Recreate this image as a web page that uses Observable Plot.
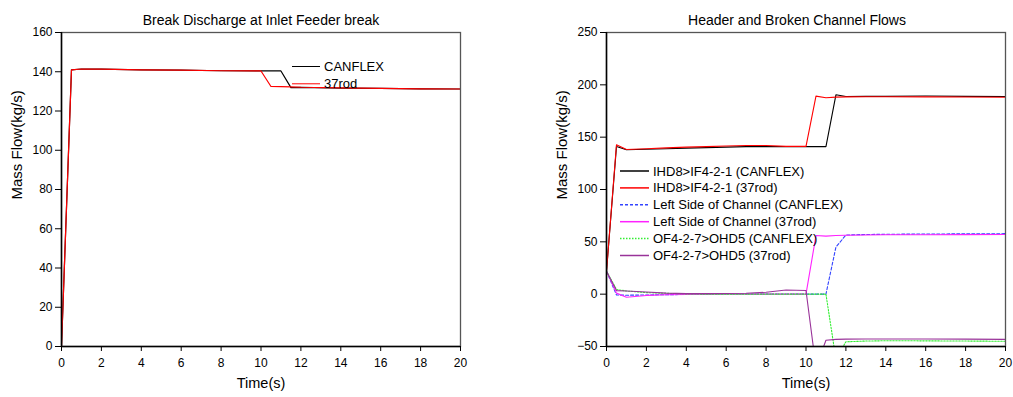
<!DOCTYPE html>
<html>
<head>
<meta charset="utf-8">
<script src="https://cdn.jsdelivr.net/npm/d3@7"></script>
<script src="https://cdn.jsdelivr.net/npm/@observablehq/plot@0.6"></script>
<style>
  html, body { margin: 0; padding: 0; background: #fff; }
  #wrap { display: flex; width: 1013px; height: 397px; }
  svg { overflow: visible; }
</style>
</head>
<body>
<div id="wrap"></div>
<script>
// ---------- Left chart data ----------
const leftTitle = "Break Discharge at Inlet Feeder break";
const timeLeft = [0, 0.5, 1, 2, 4, 6, 8, 10, 10.5, 11, 11.5, 12, 14, 16, 18, 20];
const canflexLeft = [0, 141, 141.4, 141.3, 141, 140.8, 140.5, 140.4, 140.4, 140.4, 131.9, 132, 131.7, 131.5, 131.3, 131.2];
const rod37Left   = [0, 141, 141.4, 141.3, 141, 140.8, 140.5, 140.4, 132.5, 132.4, 132.3, 132.1, 131.8, 131.5, 131.3, 131.2];
const leftSeries = ["CANFLEX", "37rod"];
const leftColors = ["#000000", "#ff0000"];
const leftYTicks = [0, 20, 40, 60, 80, 100, 120, 140, 160];

// ---------- Right chart data ----------
const rightTitle = "Header and Broken Channel Flows";
const timeRight = [0, 0.5, 1, 2, 3, 4, 5, 6, 7, 8, 9, 10, 10.5, 11, 11.5, 12, 13, 14, 16, 18, 20];
const ihdCanflex   = [22, 141, 138, 138.5, 139, 139.5, 140, 140.5, 141, 141, 141, 141, 141, 141, 190.5, 188.8, 189, 189, 189.3, 189, 188.8];
const ihd37rod     = [22, 142.8, 138.2, 139, 139.8, 140.5, 141, 141.5, 142, 142, 141.2, 141.2, 189.2, 187.7, 188.3, 188.5, 188.6, 188.6, 188.5, 188.4, 188.2];
const leftCanflex  = [22, -0.8, -1, -0.8, -0.5, -0.3, 0, 0, 0, 0, 0, 0, 0, 0, 45, 56.5, 57, 57.2, 57.5, 57.6, 57.8];
const left37rod    = [22, 1, -3, -1.2, -0.6, -0.3, 0, 0, 0, 0, 0, 0, 56, 55.5, 56, 56.3, 56.5, 56.7, 56.8, 56.9, 57];
const ofCanflex    = [22, 4.5, 3, 1.5, 0.8, 0.3, 0, 0, 0, 0, 0, 0, 0, 0, -62, -45.5, -44.8, -44.5, -44.6, -44.8, -45];
const of37rod      = [22, 3.4, 3, 2, 1, 0.5, 0.5, 0.6, 0.9, 1.8, 4, 3.5, -70, -44, -43.2, -43, -42.9, -42.8, -42.9, -43, -43.2];
const rightSeries = [
  "IHD8>IF4-2-1 (CANFLEX)",
  "IHD8>IF4-2-1 (37rod)",
  "Left Side of Channel (CANFLEX)",
  "Left Side of Channel (37rod)",
  "OF4-2-7>OHD5 (CANFLEX)",
  "OF4-2-7>OHD5 (37rod)"
];
const rightColors = ["#000000", "#ff0000", "#3344ff", "#ff22ff", "#33ee33", "#993399"];
const rightDash = [null, null, "3,2", null, "1.5,1.5", null];
const rightYTicks = [-50, 0, 50, 100, 150, 200, 250];
const xTicks = [0, 2, 4, 6, 8, 10, 12, 14, 16, 18, 20];
const xLabel = "Time(s)";
const yLabel = "Mass Flow(kg/s)";

function toRows(time, values, series) {
  return time.map((t, i) => ({ t, v: values[i], s: series }));
}

const leftData = [
  toRows(timeLeft, canflexLeft, leftSeries[0]),
  toRows(timeLeft, rod37Left, leftSeries[1])
];
const rightValues = [ihdCanflex, ihd37rod, leftCanflex, left37rod, ofCanflex, of37rod];
const rightData = rightValues.map((vals, i) => toRows(timeRight, vals, rightSeries[i]));

function legendMark(names, colors, dashes, opts) {
  return (index, scales, values, dims) => {
    const g = d3.create("svg:g")
      .attr("font-family", "Liberation Sans, Arial, sans-serif")
      .attr("font-size", 13)
      .attr("text-anchor", "start");
    names.forEach((name, i) => {
      const y = dims.marginTop + opts.top + i * opts.step;
      const x0 = dims.marginLeft + opts.left;
      g.append("line")
        .attr("x1", x0).attr("x2", x0 + opts.len)
        .attr("y1", y).attr("y2", y)
        .attr("stroke", colors[i])
        .attr("stroke-width", opts.sw)
        .attr("stroke-dasharray", dashes ? dashes[i] : null);
      g.append("text")
        .attr("x", x0 + opts.len + 4)
        .attr("y", y)
        .attr("dy", "0.35em")
        .attr("text-anchor", "start")
        .attr("fill", "#000")
        .text(name);
    });
    return g.node();
  };
}

function commonMarks(domainY, yTicks, title, titleDx) {
  return [
    Plot.frame({ stroke: "#555", strokeWidth: 1.3 }),
    Plot.axisX({ ticks: xTicks, tickSize: 5, tickPadding: 7, label: null, fontSize: 12 }),
    Plot.axisY({ ticks: yTicks, tickSize: 6, tickPadding: 3, label: null, fontSize: 12 }),
    Plot.ruleX([xTicks[0]], { stroke: "#000", strokeWidth: 1.5 }),
    Plot.ruleY([domainY[0]], { stroke: "#000", strokeWidth: 1.5 }),
    Plot.text([title], { frameAnchor: "top", dy: -17, dx: titleDx, fontSize: 14, fill: "#000" }),
    Plot.text([xLabel], { frameAnchor: "bottom", dy: 41, fontSize: 14.5, fill: "#000" }),
    Plot.text([yLabel], { frameAnchor: "left", dx: -44, dy: 10, rotate: -90, fontSize: 15, fill: "#000" })
  ];
}

const leftDomain = [leftYTicks[0], leftYTicks[leftYTicks.length - 1]];
const left = Plot.plot({
  width: 506, height: 397,
  marginLeft: 61, marginRight: 46, marginTop: 32, marginBottom: 51,
  style: { fontFamily: "Liberation Sans, Arial, sans-serif", fontSize: "12px", color: "#000", background: "#fff" },
  x: { domain: [xTicks[0], xTicks[xTicks.length - 1]] },
  y: { domain: leftDomain },
  marks: [
    ...leftData.map((rows, i) => Plot.line(rows, { x: "t", y: "v", stroke: leftColors[i], strokeWidth: 1.2, clip: true })),
    ...commonMarks(leftDomain, leftYTicks, leftTitle, 0),
    legendMark(leftSeries, leftColors, null, { left: 231, top: 34.5, step: 17.3, len: 28, sw: 1 })
  ]
});

const rightDomain = [rightYTicks[0], rightYTicks[rightYTicks.length - 1]];
const right = Plot.plot({
  width: 507, height: 397,
  marginLeft: 100, marginRight: 8, marginTop: 32, marginBottom: 51,
  style: { fontFamily: "Liberation Sans, Arial, sans-serif", fontSize: "12px", color: "#000", background: "#fff" },
  x: { domain: [xTicks[0], xTicks[xTicks.length - 1]] },
  y: { domain: rightDomain },
  marks: [
    ...rightData.map((rows, i) => Plot.line(rows, {
      x: "t", y: "v", stroke: rightColors[i], strokeWidth: 1.1,
      strokeDasharray: rightDash[i] || undefined, clip: true
    })),
    ...commonMarks(rightDomain, rightYTicks, rightTitle, -9),
    legendMark(rightSeries, rightColors, rightDash, { left: 14, top: 139, step: 16.9, len: 29, sw: 1.5 })
  ]
});

document.getElementById("wrap").append(left, right);
</script>
</body>
</html>
